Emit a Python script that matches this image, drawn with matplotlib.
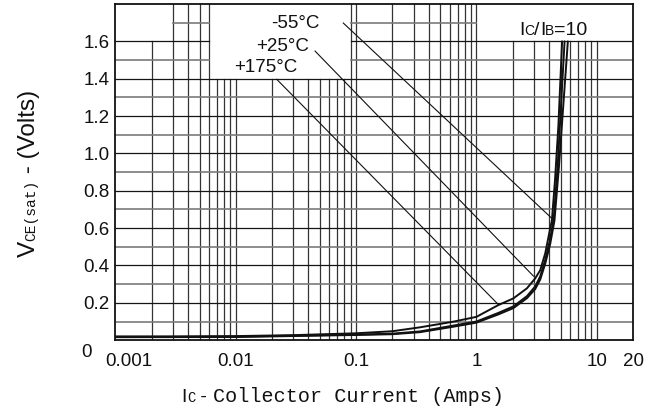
import numpy as np
import matplotlib
matplotlib.use('Agg')
import matplotlib.pyplot as plt
import matplotlib.transforms as mtransforms

# ---------------- data ----------------
x_ticks = [0.001, 0.01, 0.1, 1, 10, 20]
x_tick_labels = ['0.001', '0.01', '0.1', '1', '10', '20']
y_ticks = [0, 0.2, 0.4, 0.6, 0.8, 1.0, 1.2, 1.4, 1.6]
y_tick_labels = ['0', '0.2', '0.4', '0.6', '0.8', '1.0', '1.2', '1.4', '1.6']

ic_175 = [0.001, 0.003, 0.01, 0.03, 0.1, 0.2, 0.34, 0.64, 1.0, 1.52, 2.03, 2.63, 3.08, 3.39, 3.73, 3.97, 4.24, 4.5, 4.8, 5.15]
vce_175 = [0.02, 0.02, 0.022, 0.027, 0.037, 0.048, 0.069, 0.099, 0.125, 0.188, 0.224, 0.278, 0.331, 0.375, 0.465, 0.553, 0.643, 0.86, 1.15, 1.6]

ic_25 = [0.001, 0.01, 0.1, 0.2, 0.34, 0.64, 1.0, 1.52, 2.03, 2.63, 3.08, 3.39, 3.73, 4.1, 4.4, 4.75, 5.4]
vce_25 = [0.018, 0.019, 0.03, 0.035, 0.047, 0.078, 0.1, 0.146, 0.181, 0.236, 0.288, 0.342, 0.43, 0.54, 0.66, 0.95, 1.6]

ic_m55 = [0.001, 0.01, 0.1, 0.2, 0.34, 0.64, 1.0, 1.52, 2.03, 2.63, 3.08, 3.39, 3.73, 4.1, 4.45, 4.85, 5.75]
vce_m55 = [0.016, 0.017, 0.028, 0.032, 0.043, 0.072, 0.094, 0.138, 0.172, 0.225, 0.274, 0.325, 0.41, 0.515, 0.64, 0.93, 1.6]

temp_labels = ['-55°C', '+25°C', '+175°C']
label_pos = [(0.0311, 1.696), (0.0243, 1.573), (0.0177, 1.458)]
leader_start = [(0.0783, 1.698), (0.0456, 1.548), (0.0219, 1.397)]
leader_end = [(4.24, 0.652), (2.98, 0.343), (1.52, 0.191)]

# ---------------- figure ----------------
W, H = 661, 412
fig = plt.figure(figsize=(W / 100, H / 100), dpi=100)
L, R, T, B = 115.4, 633.0, 4.0, 340.2
ax = fig.add_axes([L / W, 1 - B / H, (R - L) / W, (B - T) / H])
ax.set_xscale('log')
ax.set_xlim(0.001, 20)
ax.set_ylim(0, 1.8)

SANS = 'Liberation Sans'
MONO = 'Liberation Mono'
INK = '#111111'

# grid (with blank boxes behind the labels)
vx = [k * 10.0 ** d for d in range(-3, 1) for k in range(1, 10)] + [10]
def vtop(x):
    if 0.0011 < x < 0.0029:
        return 1.6
    if 0.0061 < x < 0.089:
        return 1.4
    if 1.01 < x < 19:
        return 1.6
    return 1.8
for x in vx[1:]:
    ax.plot([x, x], [0, vtop(x)], color='#333333', lw=0.9, zorder=1)

for i in range(1, 18):
    y = i / 10
    if i == 17:
        segs = [(0.003, 0.006), (0.09, 1)]
    elif i in (15, 16):
        segs = [(0.001, 0.006), (0.09, 20)]
    else:
        segs = [(0.001, 20)]
    even = (i % 2 == 0)
    for a, b in segs:
        ax.plot([a, b], [y, y], color='#151515' if even else '#7a7a7a',
                lw=0.9 if even else 1.2, zorder=1)

for s in ax.spines.values():
    s.set_linewidth(1.3)
    s.set_color(INK)

# curves
for xs, ys in [(ic_175, vce_175), (ic_25, vce_25), (ic_m55, vce_m55)]:
    ax.plot(xs, ys, color=INK, lw=1.4, solid_capstyle='round',
            solid_joinstyle='round', zorder=3)

# leader lines and temperature labels
for lab, p, s0, s1 in zip(temp_labels, label_pos, leader_start, leader_end):
    ax.plot([s0[0], s1[0]], [s0[1], s1[1]], color=INK, lw=0.8, zorder=2)
    ax.text(p[0], p[1], lab, ha='center', va='center', fontsize=13.5,
            family=SANS, color=INK, zorder=4)

# ticks
ax.set_xticks(x_ticks)
ax.set_xticklabels(x_tick_labels, fontsize=13.5, family=SANS, color=INK)
ax.set_xticks([], minor=True)
ax.set_yticks(y_ticks)
ax.set_yticklabels(y_tick_labels, fontsize=13.5, family=SANS, color=INK)
ax.tick_params(axis='both', length=0)
ax.tick_params(axis='x', pad=9.0)
ax.tick_params(axis='y', pad=4)

xl0 = ax.get_xticklabels()[0]
xl0.set_transform(xl0.get_transform() + mtransforms.ScaledTranslation(13.6 / 100, 0, fig.dpi_scale_trans))
yl0 = ax.get_yticklabels()[0]
yl0.set_transform(yl0.get_transform() + mtransforms.ScaledTranslation(-18 / 100, -10 / 100, fig.dpi_scale_trans))

# composite text helper
renderer = fig.canvas.get_renderer()
def runs(pieces, xy, xycoords, rotation=0):
    off = 0.0
    for s, fam, size in pieces:
        dx, dy = (off, 0) if rotation == 0 else (0, off)
        t = ax.annotate(s, xy=xy, xycoords=xycoords, xytext=(dx, dy),
                        textcoords='offset pixels', ha='left', va='baseline',
                        rotation=rotation, rotation_mode='anchor',
                        family=fam, fontsize=size, color=INK,
                        annotation_clip=False, zorder=5)
        bb = t.get_window_extent(renderer)
        off += bb.width if rotation == 0 else bb.height

# Ic/Ib = 10
runs([('I', SANS, 14), ('C', SANS, 10), ('/', SANS, 14), ('I', SANS, 14),
      ('B', SANS, 10), ('=10', SANS, 14)], (2.26, 1.632), 'data')

# axis labels
runs([('I', SANS, 14), ('C', MONO, 10), (' - ', SANS, 14),
      ('Collector Current (Amps)', MONO, 14.5)], (181.7, H - 402), 'figure pixels')
runs([('V', SANS, 17.5), ('CE(sat)', MONO, 10.5), (' - (Volts)', SANS, 17.5)],
     (35, H - 257), 'figure pixels', rotation=90)

fig.savefig('out.png', dpi=100)
